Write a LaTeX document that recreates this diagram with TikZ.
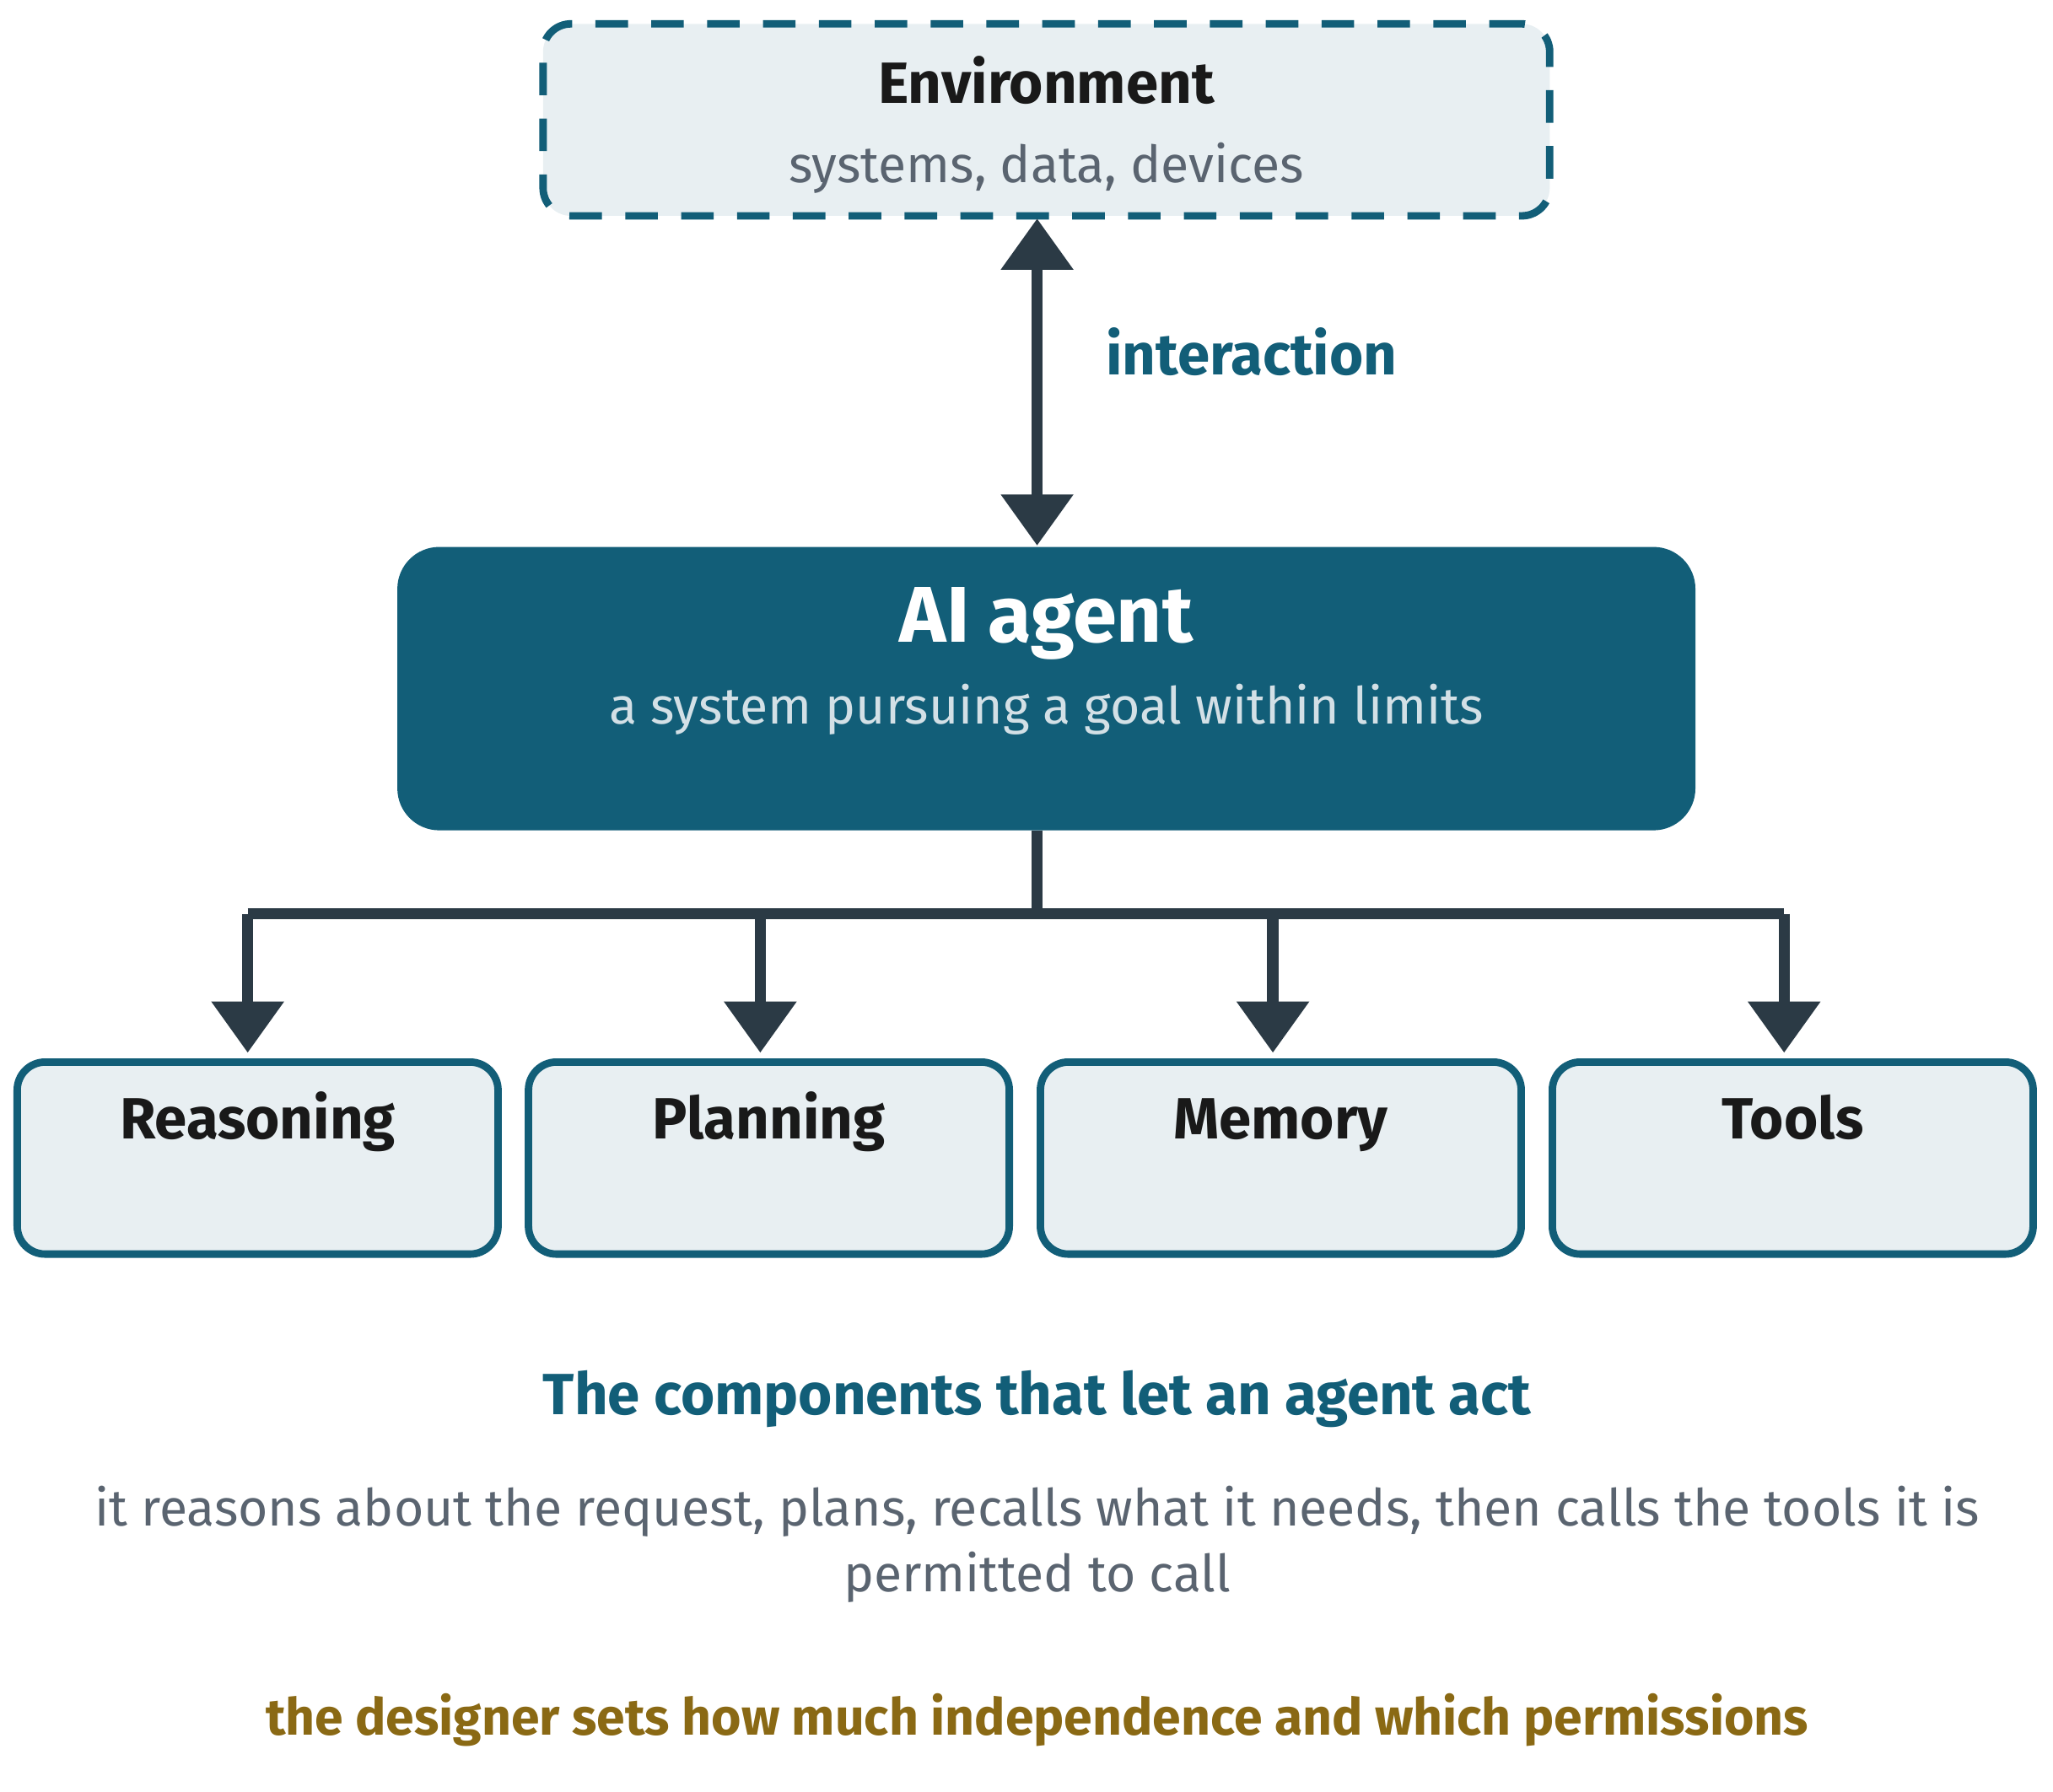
\documentclass[tikz,border=0pt]{standalone}
\usepackage{fontspec}
\setmainfont{Fira Sans}
\usetikzlibrary{arrows.meta,positioning}
\definecolor{teal}{HTML}{125E78}
\definecolor{dark}{HTML}{2B3A45}
\definecolor{pale}{HTML}{E8EFF2}
\definecolor{greytxt}{HTML}{5A6470}
\definecolor{gold}{HTML}{8A6914}
\tikzset{
  partbox/.style={draw=teal,line width=1.6pt,fill=pale,rounded corners=6pt,minimum width=3.63cm,minimum height=1.45cm},
  link/.style={draw=dark,line width=2.4pt},
  tip/.style={-{Triangle[width=15pt,length=11pt]}},
  head/.style={font=\bfseries\fontsize{12.5}{15}\selectfont,anchor=base},
  body/.style={font=\fontsize{11}{14}\selectfont,anchor=base}
}
\begin{document}
\begin{tikzpicture}
  \useasboundingbox (0,0) rectangle (15.5,-13.53);
  % environment
  \node[draw=teal,dashed,dash pattern=on 7pt off 5pt,line width=1.6pt,fill=pale,rounded corners=6pt,
        minimum width=7.6cm,minimum height=1.45cm] (env) at (7.9,-0.905) {};
  \node[head,text=black!90] at (7.9,-0.78) {Environment};
  \node[body,text=greytxt] at (7.9,-1.38) {systems, data, devices};
  % agent
  \node[fill=teal,rounded corners=9pt,minimum width=9.8cm,minimum height=2.14cm] (agent) at (7.9,-5.2) {};
  \node[head,font=\bfseries\fontsize{17}{20}\selectfont,text=white] at (7.9,-4.85) {AI agent};
  \node[body,text=pale!90!teal] at (7.9,-5.47) {a system pursuing a goal within limits};
  \draw[link,{Triangle[width=15pt,length=11pt]}-{Triangle[width=15pt,length=11pt]}] (7.83,-1.65) -- (7.83,-4.12);
  \node[head,text=teal] (inter) at (9.45,-2.83) {interaction};
  % components
  \node[partbox] (reason) at (1.945,-8.745) {};
  \node[partbox] (plan) at (5.805,-8.745) {};
  \node[partbox] (mem) at (9.67,-8.745) {};
  \node[partbox] (tools) at (13.535,-8.745) {};
  \coordinate (hub) at (7.83,-6.9);
  \draw[link] (7.83,-6.27) -- (hub);
  \draw[link] (1.87,-6.9) -- (13.47,-6.9);
  \foreach \n/\x/\t in {reason/1.87/Reasoning, plan/5.74/Planning, mem/9.61/Memory, tools/13.47/Tools}
  {  \draw[link,tip] (\x,-6.9) -- (\x,-7.95);
     \node[head,text=black!90] at (\n.north |- 0,-8.6) {\t};
  }
  % captions
  \node[head,text=teal] (cap) at (7.83,-10.68) {The components that let an agent act};
  \node[body,anchor=north,text=greytxt,align=center] (desc) at (7.83,-11.1)
    {it reasons about the request, plans, recalls what it needs, then calls the tools it is\\permitted to call};
  \node[body,font=\bfseries\fontsize{11}{14}\selectfont,text=gold] (note) at (7.83,-13.1) {the designer sets how much independence and which permissions};
\end{tikzpicture}
\end{document}
